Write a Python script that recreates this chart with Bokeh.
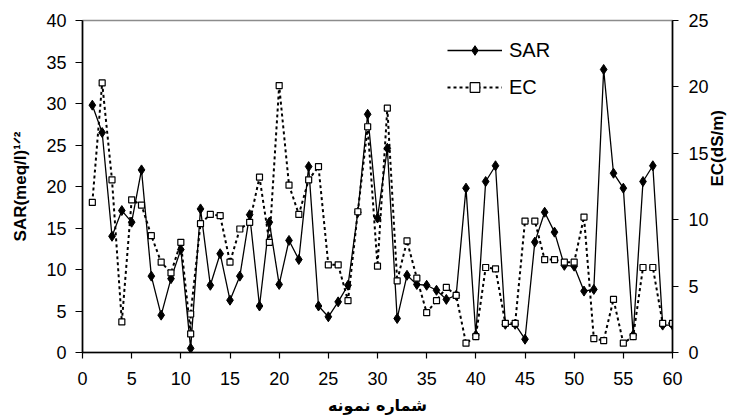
import numpy as np
from bokeh.plotting import figure
from bokeh.models import (Range1d, LinearAxis, FixedTicker, Legend, LegendItem)
from bokeh.embed import file_html
from bokeh.resources import INLINE

# ---- data ----
sample_sar = list(range(1, 61))
sar = [29.8, 26.5, 14.0, 17.1, 15.7, 22.0, 9.2, 4.5, 8.9, 12.4,
       0.5, 17.3, 8.1, 11.9, 6.3, 9.2, 16.6, 5.6, 15.7, 8.2,
       13.5, 11.2, 22.4, 5.6, 4.3, 6.1, 8.1, 16.9, 28.7, 16.2,
       24.6, 4.1, 9.3, 8.2, 8.1, 7.5, 6.4, 6.9, 19.8, 2.1,
       20.6, 22.5, 3.4, 3.4, 1.6, 13.3, 16.9, 14.5, 10.5, 10.4,
       7.4, 7.6, 34.1, 21.6, 19.8, 2.1, 20.6, 22.5, 3.3, 3.3]

sample_ec = [1, 2, 3, 4, 5, 6, 7, 8, 9, 10, 11, 11] + list(range(12, 61))
ec = [11.3, 20.3, 13.0, 2.3, 11.5, 11.1, 8.8, 6.8, 6.0, 8.3,
      1.4, 2.9, 9.7, 10.4, 10.3, 6.8, 9.3, 9.8, 13.2, 8.3,
      20.1, 12.6, 10.4, 13.0, 14.0, 6.6, 6.6, 3.9, 10.6, 17.0,
      6.5, 18.4, 5.4, 8.4, 5.6, 3.0, 3.9, 4.9, 4.3, 0.7,
      1.2, 6.4, 6.3, 2.2, 2.2, 9.9, 9.9, 7.0, 7.0, 6.8,
      6.8, 10.2, 1.05, 0.9, 4.0, 0.7, 1.2, 6.4, 6.4, 2.2, 2.2]

x_ticks = [0, 5, 10, 15, 20, 25, 30, 35, 40, 45, 50, 55, 60]
sar_ticks = [0, 5, 10, 15, 20, 25, 30, 35, 40]
ec_ticks = [0, 5, 10, 15, 20, 25]

series_names = ["SAR", "EC"]
x_title = "شماره نمونه"
y_title = "SAR(meq/l)\u00b9\u141f\u00b2"
y2_title = "EC(dS/m)"

FONT = "Liberation Sans"

p = figure(width=739, height=417,
           x_range=Range1d(x_ticks[0], x_ticks[-1]),
           y_range=Range1d(sar_ticks[0], sar_ticks[-1]),
           output_backend="svg", toolbar_location=None,
           min_border_left=82, min_border_right=67,
           min_border_top=20, min_border_bottom=65)
p.extra_y_ranges = {"ec": Range1d(ec_ticks[0], ec_ticks[-1])}
p.grid.visible = False
p.outline_line_color = "#8c8c8c"
p.outline_line_width = 1.5
p.background_fill_color = "white"
p.border_fill_color = "white"

ax2 = LinearAxis(y_range_name="ec")
p.add_layout(ax2, "right")

for ax, ticks, out, standoff, title, tstand in [
        (p.xaxis[0], x_ticks, 6, 13, x_title, 8),
        (p.yaxis[0], sar_ticks, 7, 9, y_title, 13),
        (ax2, ec_ticks, 6, 10, y2_title, 6)]:
    ax.ticker = FixedTicker(ticks=ticks)
    ax.axis_line_color = "black"
    ax.axis_line_width = 1.6
    ax.major_tick_line_color = "black"
    ax.major_tick_line_width = 1.2
    ax.major_tick_out = out
    ax.major_tick_in = 0
    ax.minor_tick_line_color = None
    ax.major_label_text_font = FONT
    ax.major_label_text_font_size = "18px"
    ax.major_label_text_color = "black"
    ax.major_label_standoff = standoff
    ax.axis_label = title
    ax.axis_label_standoff = tstand
    ax.axis_label_text_font = FONT
    ax.axis_label_text_font_style = "bold"
    ax.axis_label_text_font_size = "17px"
    ax.axis_label_text_color = "black"

# right-hand title reads bottom-to-top, like the left one
try:
    ax2.axis_label_orientation = np.pi / 2
except Exception:
    pass

p.xaxis[0].axis_label_text_font = "DejaVu Sans"
p.xaxis[0].axis_label_text_font_size = "16px"

sar_line = p.line(sample_sar, sar, line_color="black", line_width=1.3)
sar_pts = p.scatter(sample_sar, sar, marker="diamond", size=10,
                    fill_color="black", line_color="black")
ec_line = p.line(sample_ec, ec, y_range_name="ec", line_color="black",
                 line_width=2, line_dash="3 3")
ec_pts = p.scatter(sample_ec, ec, y_range_name="ec", marker="square", size=6,
                   fill_color="white", line_color="black", line_width=1.2)

legend = Legend(items=[LegendItem(label=series_names[0], renderers=[sar_line, sar_pts]),
                       LegendItem(label=series_names[1], renderers=[ec_line, ec_pts])],
                location=(365, 253), orientation="vertical",
                padding=0, margin=0, spacing=13,
                glyph_width=55, glyph_height=24, label_height=24,
                label_standoff=7,
                label_text_font=FONT, label_text_font_size="20px",
                label_text_color="black",
                background_fill_alpha=0, border_line_color=None)
p.add_layout(legend)

open("out.html", "w").write(file_html(p, INLINE))
